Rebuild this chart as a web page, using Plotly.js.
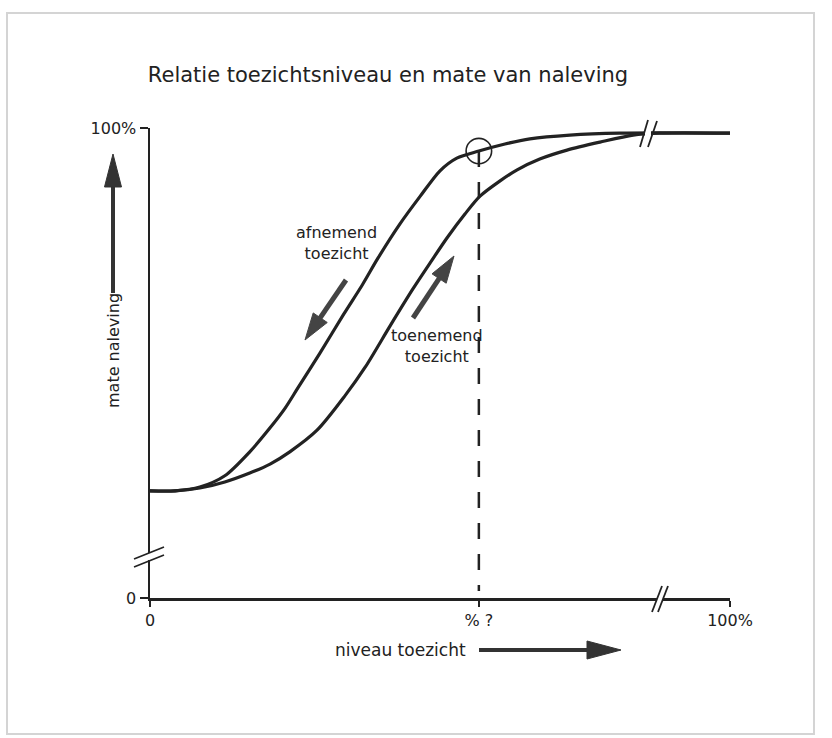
<!DOCTYPE html>
<html>
<head>
<meta charset="utf-8">
<script src="https://cdn.plot.ly/plotly-3.0.1.min.js"></script>
<style>
  html, body { margin: 0; padding: 0; background: #ffffff; }
  #chart { width: 832px; height: 738px; }
</style>
</head>
<body>
<div id="chart"></div>
<script>
// ---- data (niveau toezicht in %, mate naleving in %) ----
const afnemendX = [0, 4.3, 8.6, 12.9, 17.2, 20.7, 23.3, 25.5, 29.3, 33.4, 36.6, 39.3, 43.1, 46.6, 50.0, 52.9, 56.7, 61.2, 65.5, 72.4, 81.0, 100];
const afnemendY = [22.8, 22.8, 23.6, 26.0, 31.1, 36.2, 40.4, 44.7, 52.1, 60.4, 66.6, 72.3, 79.6, 85.5, 90.9, 93.6, 95.1, 96.6, 97.7, 98.5, 98.9, 98.9];
const toenemendX = [0, 4.3, 8.6, 12.9, 17.2, 20.7, 24.1, 28.8, 33.6, 37.1, 41.4, 45.3, 48.3, 51.2, 54.3, 56.9, 60.3, 63.3, 67.2, 71.9, 77.6, 83.3, 87.9, 100];
const toenemendY = [22.8, 22.8, 23.4, 24.7, 26.6, 28.5, 31.1, 35.7, 43.0, 49.1, 57.9, 65.7, 71.3, 76.6, 81.7, 85.5, 88.7, 91.1, 93.4, 95.3, 97.0, 98.5, 98.9, 98.9];
const markX = 56.7;   // "% ?" niveau toezicht
const markY = 95.1;
const xTickVals = [0, 56.7, 100];
const xTickText = ['0', '% ?', '100%'];
const yTickVals = [0, 100];
const yTickText = ['0', '100%'];

// ---- geometry helpers (pixel -> paper) ----
const L = 150, T = 128, W = 580, H = 470;
const PX = p => (p - L) / W;
const PY = p => (T + H - p) / H;
const INK = '#222222';
const FONT = 'DejaVu Sans, Arial, sans-serif';

function seg(x0, y0, x1, y1, w, c) {
  return {type: 'line', xref: 'paper', yref: 'paper', layer: 'above',
    x0: PX(x0), y0: PY(y0), x1: PX(x1), y1: PY(y1), line: {color: c || INK, width: w}};
}
function gap(x0, y0, x1, y1) {
  return {type: 'rect', xref: 'paper', yref: 'paper', layer: 'above',
    x0: PX(x0), y0: PY(y0), x1: PX(x1), y1: PY(y1), fillcolor: '#ffffff', line: {width: 0}};
}
function arrow(x0, y0, x1, y1, w, hl, hw, c) {
  const dx = x1 - x0, dy = y1 - y0, len = Math.hypot(dx, dy);
  const ux = dx / len, uy = dy / len, nx = -uy, ny = ux;
  const bx = x1 - ux * hl, by = y1 - uy * hl;
  const pts = [[x1, y1], [bx + nx * hw / 2, by + ny * hw / 2], [bx - nx * hw / 2, by - ny * hw / 2]];
  const path = 'M' + pts.map(p => PX(p[0]).toFixed(5) + ',' + PY(p[1]).toFixed(5)).join('L') + 'Z';
  return [
    seg(x0, y0, bx + ux * 2, by + uy * 2, w, c),
    {type: 'path', xref: 'paper', yref: 'paper', layer: 'above', path: path,
      fillcolor: c, line: {color: c, width: 1}}
  ];
}

const traces = [
  {x: afnemendX, y: afnemendY, type: 'scatter', mode: 'lines', name: 'afnemend toezicht',
    line: {color: INK, width: 3.2, shape: 'spline', smoothing: 0.8}, hoverinfo: 'skip'},
  {x: toenemendX, y: toenemendY, type: 'scatter', mode: 'lines', name: 'toenemend toezicht',
    line: {color: INK, width: 3.2, shape: 'spline', smoothing: 0.8}, hoverinfo: 'skip'}
];

const shapes = [
  // frame of the scanned page
  {type: 'rect', xref: 'paper', yref: 'paper', layer: 'below',
    x0: PX(7), y0: PY(734), x1: PX(814), y1: PY(13), line: {color: '#d4d4d4', width: 2}},
  // dashed marker line and circle
  {type: 'line', xref: 'x', yref: 'y', x0: markX, x1: markX, y0: markY, y1: 1.5,
    line: {color: INK, width: 2.5, dash: '16px,15px'}},
  {type: 'circle', xref: 'x', yref: 'y', layer: 'above',
    x0: markX - 2.2, x1: markX + 2.2, y0: markY - 2.7, y1: markY + 2.7,
    line: {color: INK, width: 1.6}},
  // break on top curve
  gap(645, 129, 651, 138),
  seg(648, 120, 640, 147, 1.8), seg(657, 121, 648, 147, 1.8),
  // break on x axis
  gap(657, 594, 663, 602),
  seg(662, 586, 652, 612, 1.8), seg(668, 586, 658, 612, 1.8),
  // break on y axis
  gap(146, 553, 154, 560),
  seg(134, 567, 164, 555, 1.8), seg(134, 559, 164, 547, 1.8),
  // arrows
  ...arrow(113, 293, 113, 154, 4, 33, 17, '#333333'),
  ...arrow(479, 650, 621, 650, 4, 34, 18, '#333333'),
  ...arrow(346, 280, 305, 340, 5, 27, 17, '#444444'),
  ...arrow(413, 318, 454, 256, 5, 27, 17, '#444444')
];

const annotations = [
  {xref: 'paper', yref: 'paper', x: PX(113), y: PY(351), text: 'mate naleving', textangle: -90,
    showarrow: false, font: {family: FONT, size: 16, color: INK}, xanchor: 'center', yanchor: 'middle'},
  {xref: 'paper', yref: 'paper', x: PX(400), y: PY(650), text: 'niveau toezicht',
    showarrow: false, font: {family: FONT, size: 17, color: INK}, xanchor: 'center', yanchor: 'middle'},
  {xref: 'paper', yref: 'paper', x: PX(336), y: PY(243), text: 'afnemend<br>toezicht',
    showarrow: false, font: {family: FONT, size: 16, color: INK}, xanchor: 'center', yanchor: 'middle', align: 'center'},
  {xref: 'paper', yref: 'paper', x: PX(437), y: PY(346), text: 'toenemend<br>toezicht',
    showarrow: false, font: {family: FONT, size: 16, color: INK}, xanchor: 'center', yanchor: 'middle', align: 'center'}
];

const layout = {
  width: 832, height: 738,
  margin: {l: L, r: 832 - L - W, t: T, b: 738 - T - H, pad: 0},
  paper_bgcolor: '#ffffff', plot_bgcolor: 'rgba(0,0,0,0)',
  showlegend: false,
  title: {text: 'Relatie toezichtsniveau en mate van naleving', x: 388 / 832, xanchor: 'center',
    y: 1 - 75 / 738, yanchor: 'middle', font: {family: FONT, size: 21, color: INK}},
  xaxis: {range: [0, 100], showgrid: false, zeroline: false, showline: true, linecolor: INK, linewidth: 2.5,
    ticks: 'outside', ticklen: 6, tickwidth: 2, tickcolor: INK, tickvals: xTickVals, ticktext: xTickText,
    tickfont: {family: FONT, size: 16, color: INK}, fixedrange: true},
  yaxis: {range: [0, 100], showgrid: false, zeroline: false, showline: true, linecolor: INK, linewidth: 2.5,
    ticks: 'outside', ticklen: 8, tickwidth: 2, tickcolor: INK, tickvals: yTickVals, ticktext: yTickText,
    tickfont: {family: FONT, size: 16, color: INK}, fixedrange: true},
  shapes: shapes,
  annotations: annotations
};

Plotly.newPlot('chart', traces, layout, {displayModeBar: false, staticPlot: true});
</script>
</body>
</html>
